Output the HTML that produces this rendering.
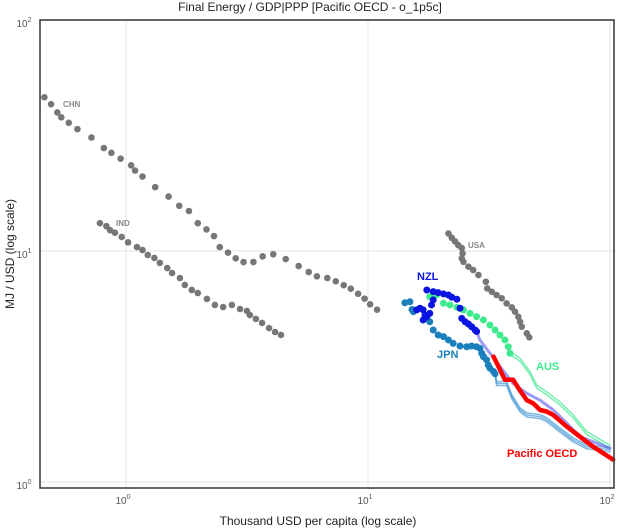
<!DOCTYPE html>
<html><head><meta charset="utf-8">
<style>
body{margin:0;background:#fff;}
svg{display:block;font-family:"Liberation Sans",sans-serif;}
</style></head>
<body>
<svg id="c" width="618" height="530" xmlns="http://www.w3.org/2000/svg">
<text x="310" y="11" text-anchor="middle" font-size="12" fill="#222">Final Energy / GDP|PPP [Pacific OECD - o_1p5c]</text>
<text x="318" y="525" text-anchor="middle" font-size="12" fill="#222">Thousand USD per capita (log scale)</text>
<text transform="translate(14,254) rotate(-90)" text-anchor="middle" font-size="12" fill="#222">MJ / USD (log scale)</text>
<g id="grid"></g><g id="marks"></g><g id="labels"></g>
<rect x="40" y="20" width="574" height="468" fill="none" stroke="#333" stroke-width="1.5"/>
</svg>
<script>
const xTicks=[1,10,100];
const yTicks=[1,10,100];
const chnX=[0.46,0.49,0.52,0.54,0.58,0.63,0.72,0.81,0.87,0.95,1.05,1.09,1.17,1.32,1.50,1.66,1.82,1.98,2.15,2.31,2.44,2.64,2.84,3.06,3.36,3.67,4.06,4.57,5.17,5.69,6.15,6.79,7.36,7.94,8.49,9.10,9.68,10.2,10.9];
const chnY=[46.3,43.2,39.8,37.9,35.9,33.7,31.0,27.9,26.6,25.1,23.5,22.3,21.0,18.9,17.2,15.7,14.9,13.2,12.4,11.6,10.4,9.84,9.30,8.96,8.96,9.48,9.68,9.23,8.61,8.11,7.77,7.64,7.39,7.11,6.87,6.53,6.22,5.88,5.57];
const indX=[0.78,0.83,0.86,0.90,0.96,1.02,1.11,1.17,1.23,1.31,1.38,1.48,1.55,1.67,1.75,1.87,1.98,2.16,2.33,2.52,2.74,2.96,3.16,3.25,3.44,3.65,3.90,4.13,4.37];
const indY=[13.2,12.8,12.3,12.0,11.5,10.9,10.4,10.1,9.61,9.33,8.88,8.44,8.03,7.64,7.13,6.78,6.58,6.20,5.84,5.72,5.84,5.61,5.50,5.28,5.08,4.88,4.64,4.46,4.33];
const usaX=[21.5,22.2,22.9,23.6,24.4,24.6,24.4,24.8,26.0,27.2,28.6,30.7,31.1,32.5,34.0,35.7,37.4,39.3,40.5,41.8,42.5,43.2,45.3,46.4];
const usaY=[11.9,11.4,11.0,10.6,10.3,9.77,9.29,8.98,8.55,8.27,7.87,7.36,6.89,6.66,6.45,6.24,5.93,5.70,5.46,5.19,4.94,4.70,4.40,4.23];
const jpnX=[14.2,14.9,15.2,15.4,18.0,18.6,19.5,20.5,21.5,22.5,24.0,25.6,26.8,28.1,29.0,29.5,30.0,30.9,31.4,31.9,33.0,33.5];
const jpnY=[5.97,6.03,5.58,5.46,4.94,4.55,4.33,4.26,4.12,3.98,3.88,3.85,3.88,3.85,3.79,3.61,3.49,3.38,3.21,3.11,3.01,2.94];
const jpnProjX=[33.5,34.0,37.4,39.3,42.5,45.3,51.4,54.7,62.1,70.5,80.1,100];
const jpnProjY=[2.94,2.67,2.67,2.34,2.05,1.95,1.92,1.86,1.68,1.52,1.42,1.38];
const nzlX=[17.5,18.6,19.5,20.5,21.5,22.2,23.3,24.0,18.6,18.3,16.4,16.9,17.2,17.5,16.9,18.0,15.9,24.4,25.2,26.0,26.8,27.7,28.1];
const nzlY=[6.78,6.67,6.60,6.52,6.45,6.31,6.18,5.65,6.14,5.84,5.65,5.56,5.28,5.20,5.03,5.37,5.56,5.11,4.94,4.83,4.70,4.55,4.48];
const nzlProjX=[28.1,29.0,31.9,35.1,39.8,45.3,51.4,58.3,66.2,75.2,100];
const nzlProjY=[4.48,4.12,3.61,3.16,2.67,2.42,2.26,2.05,1.80,1.57,1.40];
const ausX=[18.0,19.2,20.5,21.8,23.3,24.8,26.4,28.1,30.0,31.9,33.5,35.1,36.8,38.0,38.6];
const ausY=[6.34,6.45,5.94,5.84,5.70,5.56,5.37,5.20,5.03,4.78,4.55,4.33,4.12,3.85,3.61];
const ausProjX=[38.6,42.5,46.7,49.8,54.7,62.1,70.5,80.1,100];
const ausProjY=[3.61,3.38,2.96,2.59,2.42,2.19,1.92,1.63,1.42];
const pacX=[33.0,34.6,36.8,39.8,41.8,45.3,48.2,51.4,54.7,58.3,66.2,75.2,85.3,103];
const pacY=[3.49,3.16,2.77,2.77,2.55,2.26,2.19,2.05,2.02,1.95,1.74,1.57,1.42,1.25];

const NS="http://www.w3.org/2000/svg";
const X0=126,XD=242,Y0=482,YD=231;
const sx=v=>X0+Math.log10(v)*XD;
const sy=v=>Y0-Math.log10(v)*YD;
function mk(tag,attrs,parent){const e=document.createElementNS(NS,tag);for(const k in attrs)e.setAttribute(k,attrs[k]);parent.appendChild(e);return e;}
const grid=document.getElementById('grid'),marks=document.getElementById('marks'),labels=document.getElementById('labels');
const svg=document.getElementById('c');
xTicks.forEach((t,i)=>{
  const gl=mk('line',{x1:sx(t),x2:sx(t),y1:20,y2:488,stroke:'#e4e4e4','stroke-width':1},grid);
  
  
  const tx=mk('text',{x:sx(t)-3,y:504,'text-anchor':'middle','font-size':10,fill:'#555'},svg);
  tx.innerHTML='10<tspan font-size="7" dy="-5">'+Math.round(Math.log10(t))+'</tspan>';
  
  
});
yTicks.forEach((t,i)=>{
  const gl=mk('line',{x1:40,x2:614,y1:sy(t),y2:sy(t),stroke:'#e4e4e4','stroke-width':1},grid);
  
  
  const tx=mk('text',{x:24,y:sy(t)+7,'text-anchor':'middle','font-size':10,fill:'#555'},svg);
  tx.innerHTML='10<tspan font-size="7" dy="-5">'+Math.round(Math.log10(t))+'</tspan>';
  
  
});
function line(xs,ys,color,w,op,name,dy){
  const d=xs.map((x,i)=>(i?'L':'M')+sx(x).toFixed(1)+','+(sy(ys[i])+dy).toFixed(1)).join('');
  const p=mk('path',{d:d,fill:'none',stroke:color,'stroke-width':w,'stroke-opacity':op,'stroke-linejoin':'round','stroke-linecap':'round'},marks);
  
  
}
function dots(xs,ys,color,r,name){
  xs.forEach((x,i)=>{
    const c=mk('circle',{cx:sx(x),cy:sy(ys[i]),r:r,fill:color},marks);
    
    
  });
}
[-2,0,2].forEach(dy=>line(jpnProjX,jpnProjY,'#4a9ad4',1.5,0.7,'jpn-projection-line',dy));
[-1.5,1.5].forEach(dy=>line(ausProjX,ausProjY,'#4de89a',1.5,0.75,'aus-projection-line',dy));
line(nzlProjX,nzlProjY,'#5a5af0',3,0.6,'nzl-projection-line',0);
dots(chnX,chnY,'#777',3.3,'chn-point');
dots(indX,indY,'#777',3.3,'ind-point');
dots(usaX,usaY,'#777',3.3,'usa-point');
dots(jpnX,jpnY,'#1a7fbb',3.5,'jpn-point');
dots(ausX,ausY,'#3deb8e',3.5,'aus-point');
dots(nzlX,nzlY,'#0b14e0',3.5,'nzl-point');
line(pacX,pacY,'#ff0000',4.5,1,'pacific-oecd-line',0);
const labs=[['CHN',63,107,'#888',8],['IND',116,226,'#888',8],['USA',468,248,'#888',8],['NZL',417,280,'#0b14e0',11],['JPN',437,358,'#1a7fbb',11],['AUS',536,370,'#3deb8e',11],['Pacific OECD',507,457,'#ff0000',11]];
labs.forEach(l=>{
  const t=mk('text',{x:l[1],y:l[2],fill:l[3],'font-size':l[4],'font-weight':'bold'},labels);
  t.textContent=l[0];
  
  
});
</script>
</body></html>
